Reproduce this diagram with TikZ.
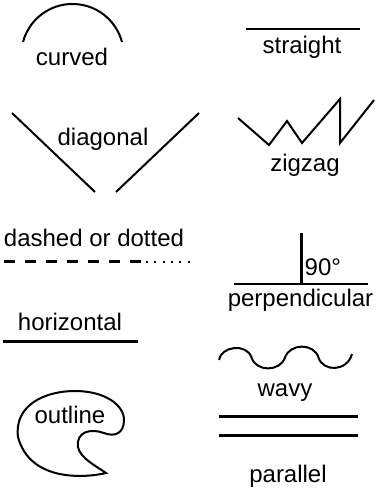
\documentclass[tikz,border=0pt]{standalone}
\usepackage{fontspec}
\setmainfont{Liberation Sans}
\begin{document}
\begin{tikzpicture}[x=1pt,y=-1pt,
  lbl/.style={inner sep=0pt,anchor=base,font=\fontsize{24}{28}\selectfont},
  thin line/.style={line width=2pt},
  thick line/.style={line width=2.8pt}]
\useasboundingbox (0,0) rectangle (376,495);
% curved
\draw[thin line] (23,42) arc[start angle=194.9,end angle=345.1,radius=51.2];
\node[lbl] (curved) at (72,66) {curved};
% straight
\draw[thick line] (246,29) -- (360,29);
\node[lbl] (straight) at (302,53) {straight};
% diagonal
\draw[thin line] (12,113) -- (95,192);
\draw[thin line] (116,192) -- (199,113);
\node[lbl] (diagonal) at (103,145.5) {diagonal};
% zigzag
\draw[thin line,line join=miter] (238,118) -- (269,145) -- (287,121) -- (302,143) -- (340,99) -- (340,143) -- (374,100);
\node[lbl] (zigzag) at (305,171.5) {zigzag};
% dashed or dotted
\node[lbl] (dashed) at (94,246) {dashed or dotted};
\draw[line width=2.5pt,dash pattern=on 11pt off 10pt] (4,261.7) -- (141,261.7);
\draw[line width=2pt,dash pattern=on 2pt off 6.33pt] (146,261.7) -- (190,261.7);
% horizontal
\node[lbl] (horizontal) at (70,330) {horizontal};
\draw[thick line] (3,341.7) -- (138,341.7);
% perpendicular
\draw[thick line] (234,284) -- (368,284);
\draw[thick line] (301.3,233) -- (301.3,284);
\node[lbl,anchor=base west] (ninety) at (304.5,275) {90°};
\node[lbl] (perp) at (300.5,306.7) {perpendicular};
% wavy
\draw[thin line] (219,360)
  .. controls (221,346) and (247,343) .. (251.5,357.5)
  .. controls (256,372) and (280,372) .. (285,357.5)
  .. controls (290,343) and (314,343) .. (318.5,357.5)
  .. controls (323,372) and (347,372) .. (352,354);
\node[lbl] (wavy) at (285,396) {wavy};
% parallel
\draw[thick line] (219,416.7) -- (358,416.7);
\draw[thick line] (219,435.7) -- (358,435.7);
\node[lbl] (parallel) at (288,482.7) {parallel};
% outline
\draw[thin line,line join=miter] (106,473) .. controls (85,478) and (30,482) .. (18,437)
  .. controls (14,405) and (45,391) .. (75,391)
  .. controls (105,391) and (124,405) .. (124,420)
  .. controls (124,434) and (114,437) .. (104,433)
  .. controls (90,428) and (76,432) .. (78,447)
  .. controls (80,458) and (96,466) .. (106,473) -- cycle;
\node[lbl] (outline) at (70,423.3) {outline};
\end{tikzpicture}
\end{document}
